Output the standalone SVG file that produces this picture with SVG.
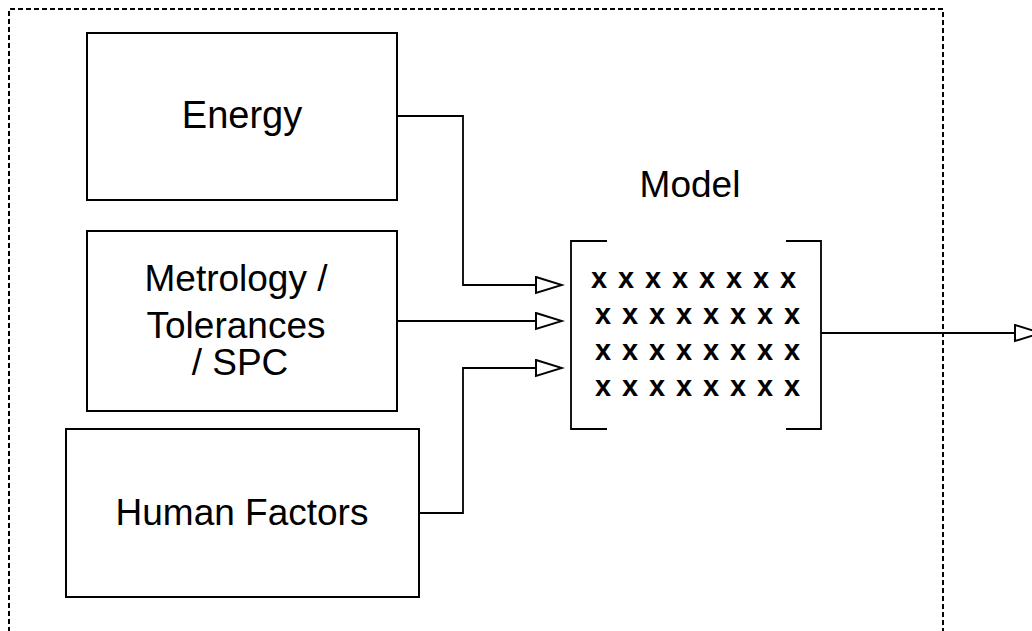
<svg xmlns="http://www.w3.org/2000/svg" width="1032" height="631" viewBox="0 0 1032 631">
<style>
.box{fill:#fff;stroke:#000;stroke-width:2}
.lbl{font-family:"Liberation Sans",Arial,sans-serif;font-size:37px;fill:#000;text-anchor:middle}
.conn{fill:none;stroke:#000;stroke-width:1.8}
.xs{font-family:"Liberation Sans",Arial,sans-serif;font-size:29px;font-weight:bold;fill:#000;word-spacing:2.8px}
</style>
<defs>
<marker id="arr" markerUnits="userSpaceOnUse" markerWidth="30" markerHeight="20" refX="27" refY="9" orient="auto" viewBox="0 0 30 20">
<path d="M1,1 L27,9 L1,17 Z" fill="#fff" stroke="#000" stroke-width="2"/>
</marker>
</defs>
<rect x="0" y="0" width="1032" height="631" fill="#fff"/>
<g id="boundary">
<path d="M9,640 V9 H943 V640" fill="none" stroke="#000" stroke-width="2" stroke-dasharray="5,3"/>
</g>
<g id="energy">
<rect class="box" x="87" y="33" width="310" height="167"/>
<text class="lbl" x="242" y="128" style="font-size:38px">Energy</text>
</g>
<g id="metrology">
<rect class="box" x="87" y="231" width="310" height="180"/>
<text class="lbl" x="236" y="291">Metrology /</text>
<text class="lbl" x="236" y="338">Tolerances</text>
<text class="lbl" x="240" y="375">/ SPC</text>
</g>
<g id="human-factors">
<rect class="box" x="66" y="429" width="353" height="168"/>
<text class="lbl" x="242" y="525">Human Factors</text>
</g>
<g id="model">
<text class="lbl" x="690" y="197">Model</text>
<path class="conn" d="M607,241 H571 V429 H607" stroke-width="2"/>
<path class="conn" d="M786,241 H821 V429 H786" stroke-width="2"/>
<text class="xs" x="591" y="288">x x x x x x x x</text>
<text class="xs" x="595" y="324">x x x x x x x x</text>
<text class="xs" x="595" y="360">x x x x x x x x</text>
<text class="xs" x="595" y="396">x x x x x x x x</text>
</g>
<g id="connectors">
<path class="conn" d="M397,116 H463 V285 H562" marker-end="url(#arr)"/>
<path class="conn" d="M397,321 H562" marker-end="url(#arr)"/>
<path class="conn" d="M419,513 H463 V368 H562" marker-end="url(#arr)"/>
<path class="conn" d="M821,333 H1041" marker-end="url(#arr)"/>
</g>
</svg>
